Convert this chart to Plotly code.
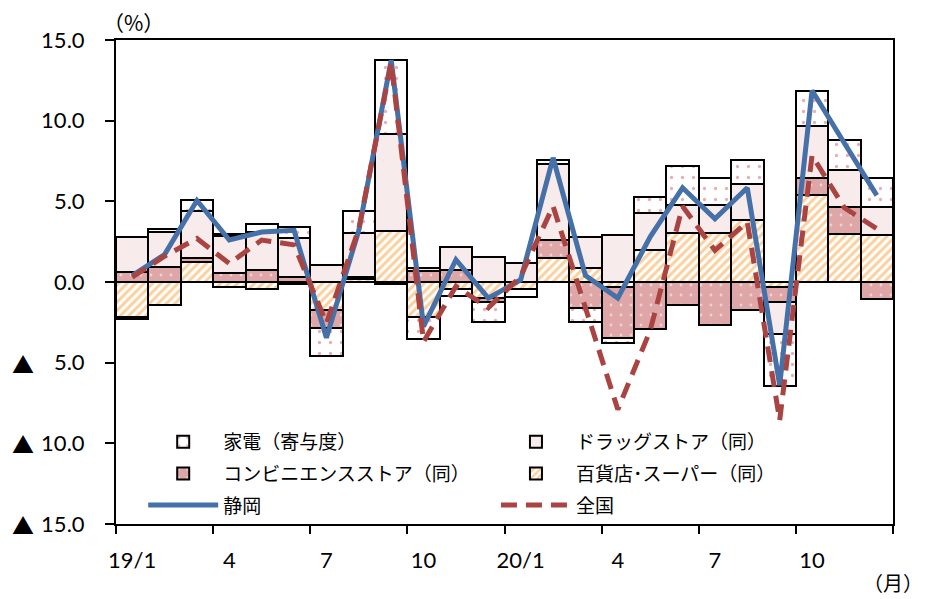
import plotly.graph_objects as go

months = ["19/1", "2", "3", "4", "5", "6", "7", "8", "9", "10", "11", "12",
          "20/1", "2", "3", "4", "5", "6", "7", "8", "9", "10", "11", "12"]

# contributions (% pt)
dept = [-2.15, -1.45, 1.25, -0.33, -0.45, -0.10, -1.73, 0.17, 3.18, -2.16, -0.45, -1.00,
        -0.45, 1.49, 0.88, -0.30, 2.00, 3.03, 3.03, 3.82, -0.30, 5.37, 2.99, 2.89]
conv = [0.62, 0.93, 0.22, 0.56, 0.76, 0.30, -1.10, 0.15, -0.10, 0.66, 0.75, -0.25,
        0.00, 1.14, -1.63, -3.17, -2.89, -1.40, -2.68, -1.71, -0.94, 1.09, 1.65, -1.03]
drug = [2.20, 2.20, 2.95, 2.30, 2.37, 2.40, 1.05, 2.72, 6.00, 0.20, 1.45, 1.57,
        1.20, 4.70, 1.93, 2.90, 2.27, 1.72, 1.72, 2.27, -1.96, 3.18, 2.32, 1.75]
appl = [-0.15, 0.15, 0.65, 0.10, 0.46, 0.74, -1.73, 1.35, 4.60, -1.40, -0.40, -1.25,
        -0.48, 0.24, -0.85, -0.29, 0.99, 2.47, 1.71, 1.48, -3.24, 2.19, 1.87, 1.82]
shizuoka = [0.40, 1.70, 5.05, 2.60, 3.10, 3.20, -3.45, 3.20, 13.75, -2.75, 1.38, -1.00,
            0.14, 7.70, 0.40, -1.00, 2.80, 5.84, 3.92, 5.84, -6.40, 11.87, 8.60, 5.37]
zenkoku = [0.30, 1.60, 2.70, 1.15, 2.60, 2.30, -2.55, 3.30, 13.60, -3.70, -0.27, -1.60,
           0.35, 4.70, -1.60, -7.90, -3.00, 4.69, 1.96, 3.72, -8.57, 7.84, 4.60, 3.30]

x = list(range(1, len(months) + 1))
tick_pos = [1, 4, 7, 10, 13, 16, 19, 22]
tick_txt = [months[i - 1] for i in tick_pos]
bound_pos = [0.5 + 3 * k for k in range(9)]
y_vals = [15, 10, 5, 0, -5, -10, -15]
y_txt = ["15.0", "10.0", "5.0", "0.0", "5.0", "10.0", "15.0"]

NUM_FONT = "Lato, 'Noto Sans CJK JP', sans-serif"
JP_FONT = "'Noto Sans CJK JP', sans-serif"
BLACK_LINE = dict(color="black", width=2)

fig = go.Figure()
fig.add_bar(x=x, y=dept, name="百貨店･スーパー（同）", width=1,
            marker=dict(color="white", line=BLACK_LINE,
                        pattern=dict(shape="/", fgcolor="#F8A23E", bgcolor="white",
                                     size=6, solidity=0.5)),
            legend="legend2", legendrank=4, legendgroup="d")
fig.add_bar(x=x, y=conv, name="コンビニエンスストア（同）", width=1,
            marker=dict(color="#DFA6A7", line=BLACK_LINE,
                        pattern=dict(shape=".", fgcolor="white", bgcolor="#DFA6A7",
                                     size=10, solidity=0.06)),
            legend="legend", legendrank=3, legendgroup="c")
fig.add_bar(x=x, y=drug, name="ドラッグストア（同）", width=1,
            marker=dict(color="#F8EBEB", line=BLACK_LINE),
            legend="legend2", legendrank=2, legendgroup="g")
fig.add_bar(x=x, y=appl, name="家電（寄与度）", width=1,
            marker=dict(color="white", line=BLACK_LINE,
                        pattern=dict(shape=".", fgcolor="#CF5E69", bgcolor="white",
                                     size=11, solidity=0.07)),
            legend="legend", legendrank=1, legendgroup="a")
fig.add_scatter(x=x, y=shizuoka, name="静岡", mode="lines",
                line=dict(color="#4570A8", width=5),
                legend="legend", legendrank=5, legendgroup="s")
fig.add_scatter(x=x, y=zenkoku, name="全国", mode="lines",
                line=dict(color="#A94442", width=5, dash="16px,9px"),
                legend="legend2", legendrank=6, legendgroup="z")

leg_common = dict(font=dict(family=JP_FONT, size=19, color="black"),
                  bgcolor="rgba(0,0,0,0)", itemwidth=70, tracegroupgap=4,
                  traceorder="grouped", yanchor="top", xanchor="left",
                  itemclick=False, itemdoubleclick=False)

fig.update_layout(
    width=918, height=591,
    margin=dict(l=108, r=33, t=32, b=75),
    plot_bgcolor="white", paper_bgcolor="white",
    barmode="relative", bargap=0,
    font=dict(family=NUM_FONT, size=22, color="black"),
    legend=dict(x=0.035, y=0.209, **leg_common),
    legend2=dict(x=0.489, y=0.209, **leg_common),
    xaxis=dict(range=[0.5, 24.5], showline=True, linecolor="black", linewidth=2,
               mirror=True, tickvals=tick_pos, ticktext=tick_txt, ticks="",
               showgrid=False, zeroline=False, ticklabelstandoff=16,
               tickfont=dict(family=NUM_FONT, size=22),
               minor=dict(tickvals=bound_pos, ticks="outside", ticklen=8,
                          tickwidth=2, tickcolor="black", showgrid=False)),
    yaxis=dict(range=[-15, 15], showline=True, linecolor="black", linewidth=2,
               mirror=True, tickvals=y_vals, ticktext=y_txt, ticks="outside",
               ticklen=9, tickwidth=2, tickcolor="black", showgrid=False,
               zeroline=True, zerolinecolor="black", zerolinewidth=2,
               ticklabelstandoff=16, tickfont=dict(family=NUM_FONT, size=22)),
)

for v in [-5, -10, -15]:
    fig.add_annotation(x=-0.120, xref="paper", y=v, yref="y", text="▲",
                       showarrow=False, xanchor="center", yanchor="middle",
                       font=dict(family=JP_FONT, size=22, color="black"))

fig.add_annotation(x=0.022, xref="paper", y=1.0, yref="paper", yshift=18,
                   text="（%）", showarrow=False, xanchor="center", yanchor="middle",
                   font=dict(family=JP_FONT, size=21, color="black"))
fig.add_annotation(x=1.041, xref="paper", y=0, yref="paper", yshift=-58,
                   text="（月）", showarrow=False, xanchor="right", yanchor="middle",
                   font=dict(family=JP_FONT, size=20, color="black"))

fig.write_html("out.html")
